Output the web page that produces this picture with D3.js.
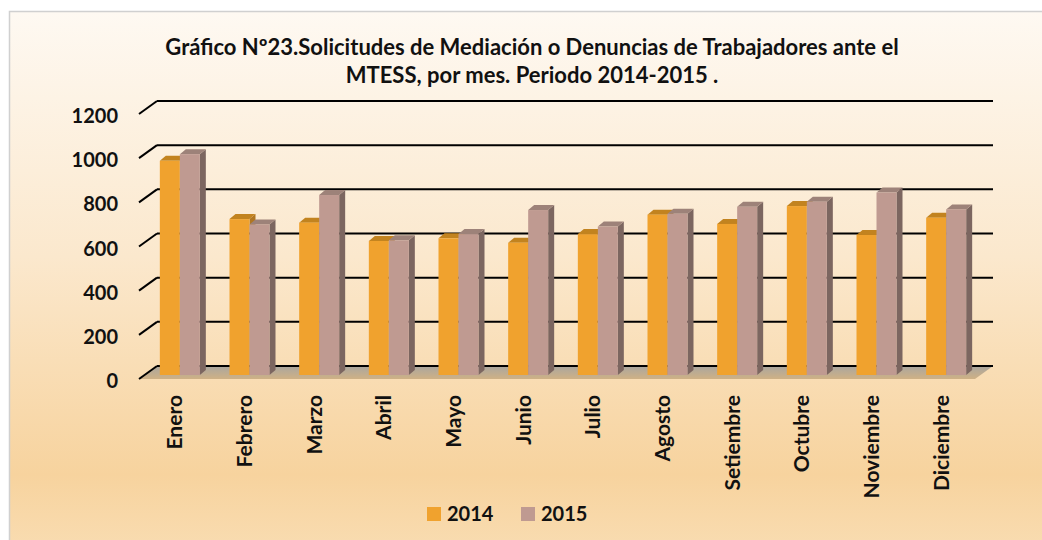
<!DOCTYPE html>
<html>
<head>
<meta charset="utf-8">
<script src="https://cdn.jsdelivr.net/npm/d3@7"></script>
<style>
  body { margin: 0; background: #fff; }
  text { font-family: Lato, "Open Sans", sans-serif; font-weight: bold; }
</style>
</head>
<body>
<div id="chart"></div>
<script>
// data
const months = ["Enero","Febrero","Marzo","Abril","Mayo","Junio","Julio","Agosto","Setiembre","Octubre","Noviembre","Diciembre"];
const series = ["2014", "2015"];
const v2014 = [970, 706, 690, 607, 619, 599, 638, 726, 684, 765, 634, 712];
const v2015 = [1000, 682, 815, 610, 638, 747, 672, 730, 762, 785, 826, 750];
const yTicks = [0, 200, 400, 600, 800, 1000, 1200];

const width = 1042, height = 540;
const depth = {dx: 18, dy: -13};   // back wall offset
const barShift = {dx: 5, dy: -4}; // bars sit a bit behind the front
const barDepth = {dx: 6, dy: -5};

const colors = {
  "2014": {front: "#f0a22e", top: "#c2831f", side: "#b07622"},
  "2015": {front: "#bf9a91", top: "#9d8279", side: "#7c6660"}
};

const svg = d3.select("#chart").append("svg")
  .attr("width", width).attr("height", height);

const defs = svg.append("defs");
const bg = defs.append("linearGradient").attr("id", "bg")
  .attr("x1", 0).attr("y1", 0).attr("x2", 0).attr("y2", 1);
bg.append("stop").attr("offset", "0%").attr("stop-color", "#fef9f2");
bg.append("stop").attr("offset", "45%").attr("stop-color", "#fbe8cd");
bg.append("stop").attr("offset", "85%").attr("stop-color", "#f7d39e");
bg.append("stop").attr("offset", "100%").attr("stop-color", "#f9ddb3");

const fl = defs.append("linearGradient").attr("id", "floor")
  .attr("x1", 0).attr("y1", 0).attr("x2", 0).attr("y2", 1);
fl.append("stop").attr("offset", "0%").attr("stop-color", "#aaa69f");
fl.append("stop").attr("offset", "100%").attr("stop-color", "#cfb185");

// chart area
svg.append("rect")
  .attr("x", 9.5).attr("y", 11.5)
  .attr("width", 1045).attr("height", 545)
  .attr("fill", "url(#bg)")
  .attr("stroke", "#d0d0d0").attr("stroke-width", 1.5);

// title
const title = svg.append("text")
  .attr("x", 532).attr("y", 55)
  .attr("text-anchor", "middle")
  .attr("font-size", "22px")
  .attr("fill", "#111");
title.append("tspan").attr("x", 532).attr("dy", 0)
  .text("Gráfico Nº23.Solicitudes de Mediación o Denuncias de Trabajadores ante el");
title.append("tspan").attr("x", 532).attr("dy", 28)
  .text("MTESS, por mes. Periodo 2014-2015 .");

// scales (front plane)
const x = d3.scaleBand()
  .domain(months)
  .range([139, 975]);

const xs = d3.scaleBand()
  .domain(series)
  .range([0, 40]);

const y = d3.scaleLinear()
  .domain([0, 1200])
  .range([379, 114]);

// floor
const x0 = x.range()[0], x1 = x.range()[1];
svg.append("path")
  .attr("d", `M${x0},${y(0)} L${x0 + depth.dx},${y(0) + depth.dy} L${x1 + depth.dx},${y(0) + depth.dy} L${x1},${y(0)} Z`)
  .attr("fill", "url(#floor)");

// gridlines on back wall + left diagonals
const grid = svg.append("g");
grid.selectAll(".gl")
  .data(yTicks)
  .enter().append("line")
    .attr("x1", x0 + depth.dx)
    .attr("x2", x1 + depth.dx)
    .attr("y1", d => y(d) + depth.dy)
    .attr("y2", d => y(d) + depth.dy)
    .attr("stroke", "#000")
    .attr("stroke-width", 2);
grid.selectAll(".dg")
  .data(yTicks)
  .enter().append("line")
    .attr("x1", x0)
    .attr("x2", x0 + depth.dx)
    .attr("y1", d => y(d))
    .attr("y2", d => y(d) + depth.dy)
    .attr("stroke", "#000")
    .attr("stroke-width", 2);

// y labels
svg.append("g").selectAll("text")
  .data(yTicks)
  .enter().append("text")
    .attr("x", 118)
    .attr("y", d => y(d) + 2)
    .attr("dy", "0.35em")
    .attr("text-anchor", "end")
    .attr("font-size", "20px")
    .attr("fill", "#111")
    .text(d => d);

// bars
const rows = months.map((m, i) => ({month: m, "2014": v2014[i], "2015": v2015[i]}));
const off = (x.bandwidth() - 40) / 2 + barShift.dx + 1;

const groups = svg.append("g").selectAll("g")
  .data(rows)
  .enter().append("g");

groups.selectAll("g")
  .data(d => series.map(s => ({month: d.month, key: s, value: d[s]})))
  .enter().append("g")
  .each(function(d) {
    const g = d3.select(this);
    const bx = x(d.month) + off + xs(d.key);
    const bw = xs.bandwidth();
    const yb = y(0) + barShift.dy;
    const yt = y(d.value) + barShift.dy;
    const c = colors[d.key];
    // side
    g.append("path")
      .attr("d", `M${bx + bw},${yt} L${bx + bw + barDepth.dx},${yt + barDepth.dy} L${bx + bw + barDepth.dx},${yb + barDepth.dy} L${bx + bw},${yb} Z`)
      .attr("fill", c.side);
    // top
    g.append("path")
      .attr("d", `M${bx},${yt} L${bx + barDepth.dx},${yt + barDepth.dy} L${bx + bw + barDepth.dx},${yt + barDepth.dy} L${bx + bw},${yt} Z`)
      .attr("fill", c.top);
    // front
    g.append("rect")
      .attr("x", bx).attr("y", yt)
      .attr("width", bw).attr("height", yb - yt)
      .attr("fill", c.front);
  });

// x labels
svg.append("g").selectAll("text")
  .data(months)
  .enter().append("text")
    .attr("transform", d => `translate(${x(d) + x.bandwidth() / 2 + 1},395) rotate(-90)`)
    .attr("dy", "0.35em")
    .attr("text-anchor", "end")
    .attr("font-size", "21px")
    .attr("fill", "#111")
    .text(d => d);

// legend
const legend = svg.append("g").selectAll("g")
  .data(series)
  .enter().append("g")
    .attr("transform", (d, i) => `translate(${427 + i * 94},507)`);
legend.append("rect")
  .attr("width", 14).attr("height", 14)
  .attr("fill", d => colors[d].front);
legend.append("text")
  .attr("x", 20).attr("y", 14)
  .attr("font-size", "20px")
  .attr("fill", "#111")
  .text(d => d);
</script>
</body>
</html>
